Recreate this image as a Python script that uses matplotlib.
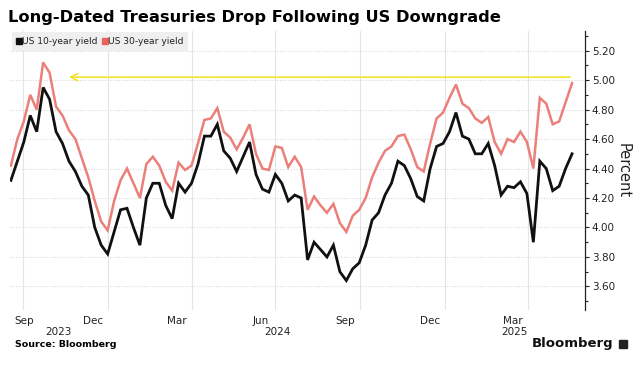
import matplotlib
matplotlib.use("Agg")
import matplotlib.pyplot as plt
import matplotlib.ticker as ticker
from matplotlib.lines import Line2D
from matplotlib.patches import Rectangle
import pandas as pd

# weekly readings (Mondays), Sep 2023 - May 2025
dates = pd.date_range("2023-09-18", periods=88, freq="7D")

us10 = [4.32, 4.45, 4.58, 4.76, 4.65, 4.95, 4.87, 4.65, 4.57, 4.45,
        4.38, 4.28, 4.22, 4.00, 3.88, 3.82, 3.97, 4.12, 4.13, 4.00,
        3.88, 4.20, 4.30, 4.30, 4.15, 4.06, 4.30, 4.24, 4.30, 4.43,
        4.62, 4.62, 4.70, 4.52, 4.47, 4.38, 4.48, 4.58, 4.36, 4.26,
        4.24, 4.36, 4.30, 4.18, 4.22, 4.20, 3.78, 3.90, 3.85, 3.80,
        3.88, 3.70, 3.64, 3.72, 3.76, 3.88, 4.05, 4.10, 4.22, 4.30,
        4.45, 4.42, 4.33, 4.21, 4.18, 4.40, 4.55, 4.57, 4.65, 4.78,
        4.62, 4.60, 4.50, 4.50, 4.57, 4.42, 4.22, 4.28, 4.27, 4.31,
        4.23, 3.90, 4.45, 4.40, 4.25, 4.28, 4.40, 4.50]

us30 = [4.42, 4.60, 4.72, 4.90, 4.80, 5.12, 5.05, 4.82, 4.76, 4.66,
        4.60, 4.47, 4.34, 4.18, 4.04, 3.98, 4.18, 4.32, 4.40, 4.30,
        4.20, 4.43, 4.48, 4.42, 4.31, 4.25, 4.44, 4.39, 4.42, 4.57,
        4.73, 4.74, 4.81, 4.65, 4.61, 4.53, 4.61, 4.70, 4.50, 4.40,
        4.39, 4.55, 4.54, 4.41, 4.48, 4.41, 4.12, 4.21, 4.15, 4.10,
        4.16, 4.03, 3.97, 4.08, 4.12, 4.20, 4.34, 4.44, 4.52, 4.55,
        4.62, 4.63, 4.53, 4.41, 4.38, 4.57, 4.74, 4.78, 4.88, 4.97,
        4.84, 4.81, 4.74, 4.71, 4.75, 4.58, 4.50, 4.60, 4.58, 4.65,
        4.58, 4.40, 4.88, 4.84, 4.70, 4.72, 4.85, 4.98]

quarter_starts = pd.to_datetime(["2023-10-01", "2024-01-01", "2024-04-01", "2024-07-01",
                                 "2024-10-01", "2025-01-01", "2025-04-01"])
month_pos = pd.to_datetime(["2023-10-02", "2023-12-16", "2024-03-16", "2024-06-15",
                            "2024-09-15", "2024-12-16", "2025-03-16"])
month_labels = ["Sep", "Dec", "Mar", "Jun", "Sep", "Dec", "Mar"]
year_pos = pd.to_datetime(["2023-11-09", "2024-07-03", "2025-03-18"])
year_labels = ["2023", "2024", "2025"]

BLACK = "#111111"
RED = "#eb7f7a"

fig = plt.figure(figsize=(6.4, 3.65), dpi=100)
ax = fig.add_axes([0.0156, 0.1507, 0.8984, 0.763])

ax.plot(dates, us30, color=RED, lw=1.8, solid_joinstyle="miter")
ax.plot(dates, us10, color=BLACK, lw=2.0, solid_joinstyle="miter")

# yellow arrow back to the Oct 2023 high
ax.annotate("", xy=(pd.Timestamp("2023-11-17"), 5.02), xytext=(pd.Timestamp("2025-05-20"), 5.02),
            arrowprops=dict(arrowstyle="->", color="#f3e21c", lw=1.1, mutation_scale=13))

ax.set_xlim(pd.Timestamp("2023-09-17"), pd.Timestamp("2025-06-02"))
ax.set_ylim(3.44, 5.33)

# y axis on the right
ax.yaxis.tick_right()
ax.yaxis.set_label_position("right")
ax.yaxis.set_major_locator(ticker.FixedLocator([3.6, 3.8, 4.0, 4.2, 4.4, 4.6, 4.8, 5.0, 5.2]))
ax.yaxis.set_major_formatter(ticker.FormatStrFormatter("%.2f"))
ax.yaxis.set_minor_locator(ticker.MultipleLocator(0.1))
ax.tick_params(axis="y", which="major", direction="out", length=3, width=0.8, pad=2,
               labelsize=7.5, colors="#222222")
ax.tick_params(axis="y", which="minor", direction="out", length=2, width=0.8, colors="#222222")
ax.set_ylabel("Percent", rotation=270, labelpad=11, fontsize=10.5, color="#222222")

# x axis: grid at quarter starts, labels mid-month
ax.xaxis.set_major_locator(ticker.FixedLocator(matplotlib.dates.date2num(quarter_starts)))
ax.xaxis.set_major_formatter(ticker.NullFormatter())
ax.xaxis.set_minor_locator(ticker.FixedLocator(matplotlib.dates.date2num(month_pos)))
ax.xaxis.set_minor_formatter(ticker.FixedFormatter(month_labels))
ax.tick_params(axis="x", which="both", length=0, pad=4, labelsize=7.5, colors="#222222")
for xp, yl in zip(year_pos, year_labels):
    ax.text(xp, -0.06, yl, transform=ax.get_xaxis_transform(), ha="center", va="top",
            fontsize=7.5, color="#222222")

ax.grid(axis="x", which="major", color="#e4e4e4", lw=0.8)
ax.grid(axis="y", which="major", color="#d8d8d8", lw=0.8, linestyle=(0, (1, 1.5)))
ax.set_axisbelow(True)

for s in ["top", "left", "bottom"]:
    ax.spines[s].set_visible(False)
ax.spines["right"].set_color("#222222")
ax.spines["right"].set_linewidth(0.9)

handles = [Line2D([], [], marker="s", ls="", color=BLACK, markersize=5),
           Line2D([], [], marker="s", ls="", color="#e9645f", markersize=5)]
leg = ax.legend(handles, ["US 10-year yield", "US 30-year yield"], ncol=2, loc="upper left",
                bbox_to_anchor=(0.003, 0.997), borderaxespad=0, fontsize=6.6,
                handlelength=0.5, handletextpad=0.15, columnspacing=0.5, borderpad=0.5,
                frameon=True, fancybox=False, facecolor="#efefef", edgecolor="none", framealpha=1)
for t in leg.get_texts():
    t.set_color("#222222")

fig.text(0.0125, 0.951, "Long-Dated Treasuries Drop Following US Downgrade",
         fontsize=11.7, fontweight="bold", va="center", ha="left")
fig.text(0.0234, 0.055, "Source: Bloomberg", fontsize=6.8, fontweight="bold", va="center")
fig.text(0.958, 0.06, "Bloomberg", fontsize=9.5, fontweight="semibold", va="center", ha="right",
         color="#111111")
fig.add_artist(Rectangle((0.967, 0.046), 0.0125, 0.022, color="#222222",
                         transform=fig.transFigure))

fig.savefig("out.png", dpi=100, facecolor="white")
